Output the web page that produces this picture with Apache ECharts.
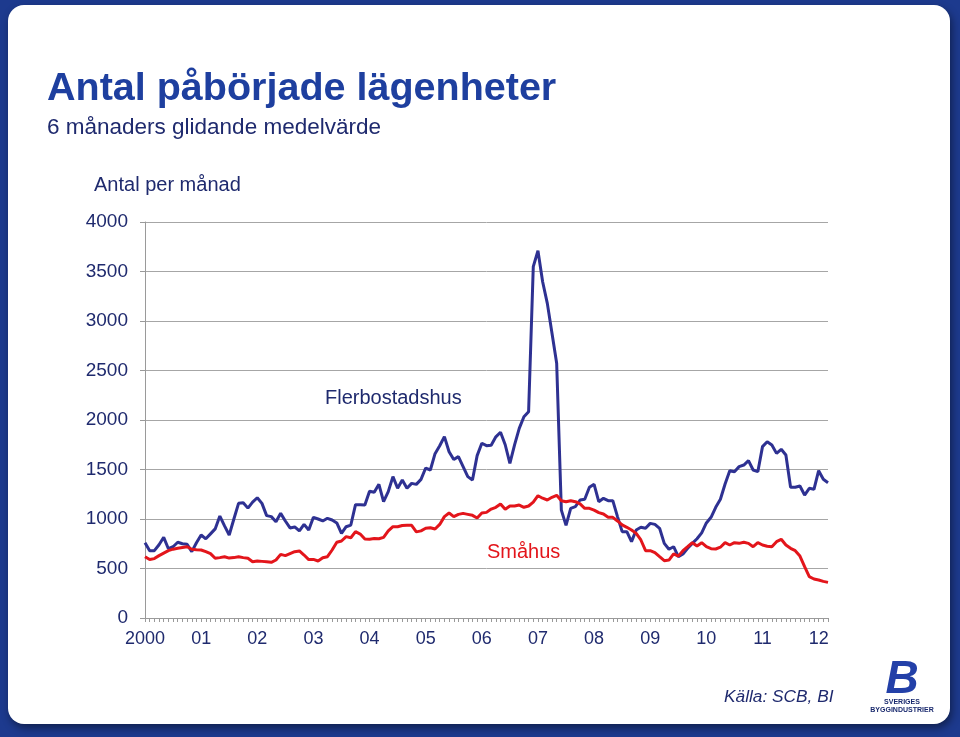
<!DOCTYPE html>
<html>
<head>
<meta charset="utf-8">
<script src="https://cdn.jsdelivr.net/npm/echarts@6/dist/echarts.min.js"></script>
<style>
html,body{margin:0;padding:0;background:#1d3a8e;}
#c{width:960px;height:737px;}
</style>
</head>
<body>
<div id="c"></div>
<script>
// Year tick labels (one per January)
const yearLabels = ['2000','01','02','03','04','05','06','07','08','09','10','11','12'];

// Flerbostadshus, monthly Jan 2000 - Mar 2012 (6-month moving average)
const flerbostadshus = [
 761,680,680,740,815,700,720,765,750,744,670,760,
 838,800,850,900,1030,930,838,1000,1158,1165,1110,1170,
 1215,1158,1034,1024,973,1057,980,910,920,879,946,889,
 1017,1000,980,1007,990,960,855,922,939,1145,1145,1141,
 1280,1270,1350,1175,1276,1428,1310,1394,1310,1360,1350,1400,
 1515,1495,1660,1740,1832,1680,1600,1630,1529,1428,1394,1640,
 1765,1741,1745,1830,1876,1750,1562,1748,1916,2033,2084,3549,
 3710,3397,3178,2876,2573,1090,935,1108,1125,1192,1199,1320,
 1350,1175,1209,1185,1185,1024,872,872,771,889,916,906,
 956,946,906,754,694,720,619,647,704,754,800,860,
 960,1017,1118,1200,1354,1488,1478,1529,1545,1589,1495,1478,
 1731,1781,1748,1663,1704,1646,1320,1320,1333,1242,1310,1300,
 1488,1401,1367
];

// Småhus, monthly Jan 2000 - Mar 2012
const smahus = [
 619,590,600,630,655,680,695,704,712,720,694,690,
 687,670,650,603,610,619,605,610,619,610,603,569,
 576,572,568,562,586,643,630,650,670,677,636,590,
 592,576,609,619,687,765,778,822,811,872,848,798,
 795,802,800,815,879,922,922,935,936,936,870,880,
 906,912,899,945,1024,1060,1024,1047,1057,1047,1037,1010,
 1060,1067,1100,1118,1152,1098,1131,1131,1141,1118,1131,1170,
 1235,1210,1192,1219,1239,1185,1175,1185,1175,1152,1108,1108,
 1090,1064,1050,1017,1017,980,940,916,889,855,788,680,
 680,660,619,579,585,647,625,680,720,761,727,761,
 720,700,697,715,761,737,761,754,765,754,720,761,
 737,725,720,771,795,737,704,680,626,518,417,394,
 384,370,360
];

const months = [];
for (let i = 0; i < flerbostadshus.length; i++) {
  months.push(String(2000 + Math.floor(i / 12)) + '-' + String(i % 12 + 1).padStart(2, '0'));
}

const navy = '#1f2a6e';
const blueLine = '#2e3192';
const redLine = '#e3151b';
const fontFam = '"Liberation Sans", Arial, sans-serif';

const chart = echarts.init(document.getElementById('c'), null, {renderer: 'canvas'});
chart.setOption({
  backgroundColor: '#1d3a8e',
  animation: false,
  grid: {left: 145, top: 222, width: 683, height: 396},
  xAxis: {
    type: 'category',
    data: months,
    boundaryGap: false,
    axisLine: {show: true, lineStyle: {color: '#9a9a9a', width: 1}},
    axisTick: {show: true, interval: 0, length: 4, lineStyle: {color: '#9a9a9a'}},
    axisLabel: {
      interval: function (i) { return i % 12 === 0; },
      formatter: function (v, i) { return yearLabels[Math.floor(i / 12)]; },
      color: navy, fontSize: 18, fontFamily: fontFam, margin: 12
    },
    splitLine: {show: false}
  },
  yAxis: {
    type: 'value',
    min: 0, max: 4000, interval: 500,
    axisLine: {show: true, lineStyle: {color: '#9a9a9a', width: 1}},
    axisTick: {show: true, length: 5, lineStyle: {color: '#9a9a9a'}},
    axisLabel: {color: navy, fontSize: 19, fontFamily: fontFam, margin: 17,
      formatter: function (v) { return String(v); }},
    splitLine: {show: true, lineStyle: {color: '#a6a6a6', width: 1}}
  },
  series: [
    {
      name: 'Flerbostadshus', type: 'line', data: flerbostadshus,
      showSymbol: false, smooth: false,
      lineStyle: {color: blueLine, width: 3}, z: 3
    },
    {
      name: 'Småhus', type: 'line', data: smahus,
      showSymbol: false, smooth: false,
      lineStyle: {color: redLine, width: 3}, z: 4
    }
  ],
  graphic: [
    {
      type: 'rect', z: -10, silent: true,
      shape: {x: 8, y: 5, width: 942, height: 719, r: 16},
      style: {fill: '#ffffff', shadowBlur: 8, shadowColor: 'rgba(0,0,0,0.45)', shadowOffsetX: 2, shadowOffsetY: 4}
    },
    {
      type: 'text', z: 10,
      style: {text: 'Antal påbörjade lägenheter', x: 47, y: 89, verticalAlign: 'middle', textVerticalAlign: 'middle',
        font: 'bold 39.5px ' + fontFam, fill: '#1e3f9f'}
    },
    {
      type: 'text', z: 10,
      style: {text: '6 månaders glidande medelvärde', x: 47, y: 128, verticalAlign: 'middle', textVerticalAlign: 'middle',
        font: '22.5px ' + fontFam, fill: navy}
    },
    {
      type: 'text', z: 10,
      style: {text: 'Antal per månad', x: 94, y: 185, verticalAlign: 'middle', textVerticalAlign: 'middle',
        font: '20px ' + fontFam, fill: navy}
    },
    {
      type: 'text', z: 10,
      style: {text: 'Flerbostadshus', x: 325, y: 398, verticalAlign: 'middle', textVerticalAlign: 'middle',
        font: '20px ' + fontFam, fill: navy}
    },
    {
      type: 'text', z: 10,
      style: {text: 'Småhus', x: 487, y: 552, verticalAlign: 'middle', textVerticalAlign: 'middle',
        font: '20px ' + fontFam, fill: redLine}
    },
    {
      type: 'text', z: 10,
      style: {text: 'Källa: SCB, BI', x: 724, y: 697, verticalAlign: 'middle', textVerticalAlign: 'middle',
        font: 'italic 17.3px ' + fontFam, fill: navy}
    },
    {
      type: 'text', z: 10,
      style: {text: 'B', x: 902, y: 680, align: 'center', textAlign: 'center', verticalAlign: 'middle', textVerticalAlign: 'middle',
        font: 'italic bold 46px ' + fontFam, fill: '#2340a8'}
    },
    {
      type: 'text', z: 10,
      style: {text: 'SVERIGES', x: 902, y: 702, align: 'center', textAlign: 'center', verticalAlign: 'middle', textVerticalAlign: 'middle',
        font: 'bold 7px ' + fontFam, fill: '#1a2a6e'}
    },
    {
      type: 'text', z: 10,
      style: {text: 'BYGGINDUSTRIER', x: 902, y: 710, align: 'center', textAlign: 'center', verticalAlign: 'middle', textVerticalAlign: 'middle',
        font: 'bold 7px ' + fontFam, fill: '#1a2a6e'}
    }
  ]
});
</script>
</body>
</html>
